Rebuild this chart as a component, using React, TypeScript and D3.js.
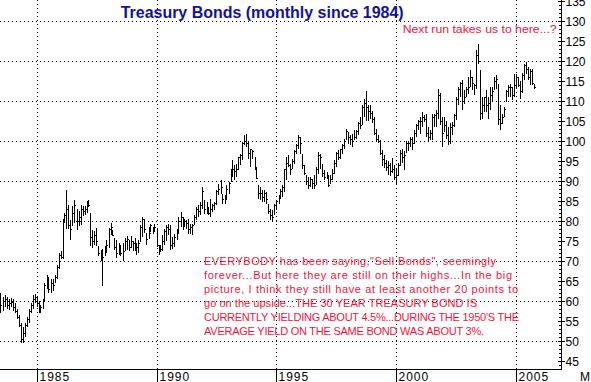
import React from 'react';
import * as d3 from 'd3';

// Monthly bars, first bar = July 1983
const START = new Date(1983, 6, 1);

const highs = [
  62.0, 61.0, 61.5, 61.0, 60.5, 60.8,
  60.5, 59.5, 58.0, 56.5, 54.5, 53.5, 54.5, 56.0, 58.0, 59.5, 61.5, 61.8,
  61.0, 60.0, 59.0, 60.5, 64.5, 66.5, 66.0, 65.5, 65.5, 66.5, 69.0, 72.0,
  72.5, 80.5, 82.0, 87.9, 84.0, 80.4, 83.75, 85.4, 83.0, 82.5, 84.2, 83.75,
  83.75, 85.0, 85.4, 82.0, 77.9, 77.5, 78.3, 73.75, 72.9, 73.0, 73.75, 75.4,
  78.3, 79.6, 77.9, 75.8, 75.4, 74.6, 73.75, 74.6, 75.8, 76.25, 75.4, 76.25,
  75.0, 75.8, 74.6, 75.4, 79.0, 81.1, 80.5, 77.0, 78.6, 79.4, 78.6, 79.4,
  78.0, 74.0, 74.0, 76.5, 78.2, 79.0, 79.4, 79.0, 76.1, 76.9, 78.2, 81.1,
  82.3, 81.1, 80.7, 80.25, 80.7, 79.4, 79.4, 81.5, 83.6, 84.0, 84.8, 88.6,
  85.25, 84.8, 83.6, 85.7, 84.4, 84.8, 87.75, 89.4, 90.25, 86.9, 86.5, 89.0,
  89.8, 93.2, 95.25, 94.0, 94.4, 96.1, 96.9, 99.8, 101.5, 101.9, 99.8, 98.2,
  97.75, 96.1, 93.6, 89.0, 88.6, 87.75, 87.75, 87.3, 84.4, 83.2, 82.75, 84.4,
  85.25, 86.5, 88.2, 89.0, 93.2, 96.1, 96.5, 94.4, 95.7, 97.75, 99.4, 101.5,
  101.1, 96.9, 94.0, 91.5, 91.1, 91.1, 90.7, 91.5, 93.6, 97.3, 96.9, 94.4,
  92.75, 92.3, 91.5, 91.5, 93.2, 95.25, 97.3, 97.75, 98.2, 99.4, 100.7, 103.2,
  102.3, 101.5, 101.9, 102.75, 102.75, 104.8, 106.1, 109.2, 110.5, 112.5, 109.2, 109.0,
  107.5, 106.0, 103.0, 101.5, 100.3, 97.9, 96.7, 95.4, 95.0, 94.6, 95.8, 94.2,
  93.0, 94.6, 97.9, 98.0, 97.5, 100.2, 100.0, 101.1, 101.1, 102.75, 104.4, 105.25,
  106.1, 107.3, 106.5, 106.9, 103.6, 102.75, 106.9, 106.9, 107.75, 113.0, 112.0, 106.0,
  106.0, 105.0, 103.6, 104.5, 104.8, 106.9, 111.1, 113.6, 114.8, 115.25, 112.75, 113.6,
  116.1, 117.75, 116.1, 114.4, 122.75, 124.4, 117.75, 111.1, 111.1, 112.75, 111.1, 113.6,
  113.6, 116.1, 116.5, 114.4, 109.0, 106.9, 108.6, 112.75, 114.0, 114.4, 113.6, 116.9,
  116.9, 116.1, 115.0, 117.0, 119.4, 119.8, 118.6, 118.2, 118.2, 114.4,
];

const lows = [
  57.0, 57.5, 58.5, 58.0, 57.8, 58.5,
  57.5, 57.0, 55.5, 53.5, 49.6, 49.5, 51.0, 53.5, 54.5, 57.0, 58.0, 59.5,
  58.5, 57.2, 57.0, 58.0, 60.0, 63.0, 62.0, 62.0, 62.5, 64.5, 65.5, 68.0,
  70.5, 70.5, 79.5, 78.0, 78.0, 75.4, 78.75, 79.6, 77.9, 78.75, 79.0, 81.25,
  81.7, 82.0, 83.5, 73.75, 73.3, 74.2, 73.75, 71.25, 70.0, 63.75, 71.25, 72.1,
  73.3, 76.7, 76.25, 72.9, 70.8, 71.7, 71.25, 70.0, 72.5, 72.9, 72.5, 73.3,
  72.5, 72.5, 71.7, 72.1, 74.8, 76.1, 77.0, 74.0, 75.7, 77.3, 76.9, 77.3,
  73.5, 71.5, 72.3, 72.5, 74.0, 75.0, 76.5, 72.75, 73.2, 73.6, 75.25, 76.9,
  78.6, 77.75, 78.6, 78.2, 76.9, 76.9, 76.5, 79.0, 80.25, 81.1, 81.5, 83.0,
  81.9, 81.9, 81.5, 81.1, 82.3, 82.75, 84.0, 86.5, 86.9, 84.4, 84.4, 85.7,
  86.9, 89.8, 91.1, 90.25, 91.1, 92.75, 94.0, 95.25, 99.0, 98.6, 95.7, 93.6,
  95.7, 92.75, 90.5, 85.7, 85.25, 84.8, 84.8, 84.4, 81.9, 80.25, 79.8, 81.5,
  82.75, 84.4, 85.7, 86.1, 87.3, 90.25, 93.6, 91.5, 93.2, 94.4, 96.9, 98.2,
  96.9, 93.2, 91.5, 89.0, 88.2, 88.6, 88.2, 88.2, 89.0, 91.9, 93.2, 91.1,
  90.25, 90.7, 88.6, 89.4, 90.25, 91.9, 93.6, 95.25, 95.7, 96.9, 98.2, 100.25,
  99.4, 99.0, 98.6, 100.25, 100.7, 101.5, 103.0, 104.0, 106.0, 105.0, 105.0, 105.5,
  104.5, 101.5, 100.0, 99.5, 96.5, 93.75, 93.3, 92.5, 91.7, 91.25, 92.0, 90.4,
  89.2, 91.25, 93.75, 94.5, 92.9, 97.0, 97.5, 98.6, 97.75, 99.4, 101.1, 102.75,
  101.9, 103.6, 104.8, 101.1, 99.8, 100.25, 100.25, 103.6, 103.6, 105.5, 104.0, 98.6,
  102.3, 100.5, 99.0, 99.4, 101.5, 103.6, 105.25, 109.0, 111.1, 107.75, 109.4, 111.1,
  111.9, 113.6, 112.75, 111.5, 113.2, 119.4, 105.25, 105.7, 107.3, 107.3, 105.7, 107.75,
  109.8, 112.75, 113.0, 104.0, 102.75, 104.4, 106.1, 109.8, 111.1, 111.1, 110.25, 111.1,
  113.2, 113.6, 110.5, 112.0, 115.25, 116.9, 115.25, 114.0, 114.0, 113.2,
];

const closes = [
  59.0, 60.0, 60.5, 59.0, 59.5, 59.8,
  58.5, 57.5, 56.0, 54.0, 50.5, 52.0, 54.0, 55.5, 57.5, 59.0, 60.5, 61.0,
  59.5, 57.8, 58.5, 60.0, 64.0, 65.0, 63.0, 64.5, 64.0, 66.0, 68.5, 71.5,
  71.0, 80.0, 81.5, 83.0, 79.0, 78.0, 82.0, 84.0, 80.0, 81.0, 83.0, 82.5,
  83.0, 84.0, 84.0, 76.0, 75.0, 76.5, 75.0, 72.0, 70.5, 71.0, 73.0, 74.0,
  78.0, 78.5, 76.5, 73.5, 72.0, 74.0, 72.0, 72.5, 75.0, 75.5, 73.5, 75.0,
  74.5, 73.0, 73.5, 74.5, 78.5, 80.5, 78.0, 75.5, 77.0, 79.0, 78.0, 78.5,
  74.0, 72.5, 73.0, 75.0, 77.5, 78.5, 78.0, 74.0, 74.5, 76.0, 78.0, 80.0,
  81.0, 79.0, 80.0, 79.5, 78.0, 78.5, 79.0, 81.0, 83.0, 82.5, 84.0, 87.5,
  83.0, 83.0, 82.0, 83.0, 84.0, 84.5, 87.5, 88.0, 88.5, 85.5, 85.5, 88.0,
  89.5, 93.0, 93.0, 92.5, 93.0, 96.0, 96.5, 99.5, 100.0, 99.5, 97.0, 98.0,
  97.5, 93.0, 90.7, 87.0, 87.0, 86.0, 87.0, 85.5, 82.5, 81.5, 81.0, 84.0,
  85.0, 86.2, 87.5, 88.5, 93.0, 94.5, 94.0, 93.0, 95.0, 97.5, 99.0, 101.0,
  99.5, 94.0, 92.0, 90.0, 89.0, 90.5, 89.5, 89.0, 93.0, 96.5, 96.0, 92.0,
  91.0, 91.0, 89.0, 90.5, 92.0, 94.5, 97.0, 96.0, 98.0, 99.0, 100.0, 102.5,
  101.0, 100.5, 100.0, 101.0, 102.5, 104.5, 104.0, 108.5, 109.5, 108.5, 107.5, 107.0,
  105.5, 102.0, 100.5, 100.0, 97.0, 95.5, 94.5, 93.5, 94.0, 92.5, 93.0, 91.0,
  91.5, 94.0, 97.0, 96.0, 96.5, 99.5, 99.5, 100.5, 99.5, 102.0, 104.0, 105.0,
  105.0, 106.0, 105.5, 102.0, 101.0, 102.0, 106.0, 106.5, 107.0, 111.5, 105.0, 102.0,
  104.0, 101.5, 100.0, 103.5, 104.0, 106.5, 110.5, 113.0, 114.5, 110.0, 111.0, 113.0,
  113.5, 116.0, 114.5, 114.0, 121.5, 120.0, 107.0, 109.0, 111.0, 109.0, 109.5, 111.5,
  112.5, 115.0, 115.5, 105.5, 104.5, 106.0, 108.0, 112.5, 113.5, 113.5, 111.5, 114.0,
  116.0, 114.0, 112.5, 116.5, 119.0, 118.0, 116.0, 117.5, 114.5, 113.5,
];

const yLabelValues = [45, 50, 55, 60, 65, 70, 75, 80, 85, 90, 95, 100, 105, 110, 115, 120, 125, 130, 135];
const gridValues = [50, 60, 70, 80, 90, 100, 110, 120, 130];
const yearTicks = [1985, 1990, 1995, 2000, 2005];

const titleText = 'Treasury Bonds (monthly since 1984)';
const calloutText = 'Next run takes us to here...?';
const noteLines = [
  'EVERYBODY has been saying,"Sell Bonds", seemingly',
  'forever...But here they are still on their highs...In the big',
  'picture, I think they still have at least another 20 points to',
  'go on the upside...THE 30 YEAR TREASURY BOND IS',
  "CURRENTLY YIELDING ABOUT 4.5%...DURING THE 1950'S THE",
  'AVERAGE YIELD ON THE SAME BOND WAS ABOUT 3%.',
];
const noteWidths = [292, 308, 314, 273, 315, 280];

const W = 591;
const H = 382;
const AXIS_X = 561.5;
const AXIS_Y = 369.5;
const FONT = 'Arial, "Liberation Sans", Helvetica, sans-serif';
const RED = '#f5143c';
const BLUE = '#12129a';

export default function App() {
  const x = d3.scaleTime()
    .domain([new Date(1985, 0, 1), new Date(2005, 0, 1)])
    .range([36.6, 516.4]);
  const y = d3.scaleLinear().domain([43, 135.325]).range([369.3, 0]);

  const bars = highs.map((h, i) => {
    const d = d3.timeMonth.offset(START, i);
    return { d, h, l: lows[i], c: closes[i] };
  });

  const px = (v: number) => Math.round(v) + 0.5;

  const minorTicks = d3.range(44, 136, 1);

  return (
    <svg
      width={W}
      height={H}
      viewBox={`0 0 ${W} ${H}`}
      style={{ position: 'absolute', left: 0, top: 0, background: '#fff', display: 'block' }}
    >
      <rect x={0} y={0} width={W} height={H} fill="#fff" />
      {/* grid */}
      <g stroke="#000" strokeWidth={1} strokeDasharray="1,3" shapeRendering="crispEdges">
        {gridValues.map((v) => (
          <line key={'h' + v} x1={0} x2={AXIS_X - 2} y1={px(y(v))} y2={px(y(v))} />
        ))}
        {yearTicks.map((yr) => (
          <line key={'v' + yr} x1={px(x(new Date(yr, 0, 1)))} x2={px(x(new Date(yr, 0, 1)))} y1={0} y2={AXIS_Y} />
        ))}
      </g>
      {/* bars */}
      <g stroke="#000" strokeWidth={1} shapeRendering="crispEdges">
        {bars.map((b, i) => {
          const bx = px(x(b.d));
          return (
            <g key={i}>
              <line x1={bx} x2={bx} y1={y(b.h)} y2={y(b.l)} />
              <line x1={bx} x2={bx + 1.5} y1={px(y(b.c))} y2={px(y(b.c))} />
            </g>
          );
        })}
      </g>
      {/* axes */}
      <g stroke="#000" strokeWidth={1} shapeRendering="crispEdges">
        <line x1={AXIS_X} x2={AXIS_X} y1={0} y2={AXIS_Y} />
        <line x1={0} x2={AXIS_X} y1={AXIS_Y} y2={AXIS_Y} />
        {minorTicks.map((v) => {
          const major = v % 5 === 0;
          const ty = px(y(v));
          return <line key={'t' + v} x1={major ? AXIS_X - 4 : AXIS_X - 3} x2={major ? AXIS_X + 3 : AXIS_X} y1={ty} y2={ty} />;
        })}
        {yearTicks.map((yr) => {
          const tx = px(x(new Date(yr, 0, 1)));
          return <line key={'yt' + yr} x1={tx} x2={tx} y1={AXIS_Y} y2={H} />;
        })}
      </g>
      <g fontFamily={FONT} fontSize={12} fill="#000">
        {yLabelValues.map((v) => (
          <text key={'yl' + v} x={AXIS_X + 4} y={y(v) + 4.3}>{v}</text>
        ))}
        {yearTicks.map((yr) => (
          <text key={'xl' + yr} x={px(x(new Date(yr, 0, 1))) + 2} y={381} letterSpacing={1}>{yr}</text>
        ))}
        <text x={580} y={381}>M</text>
      </g>
      {/* title */}
      <text x={120.7} y={17.5} fontFamily={FONT} fontWeight="bold" fontSize={16} fill={BLUE}
        textLength={283} lengthAdjust="spacingAndGlyphs">{titleText}</text>
      <text x={402.7} y={32.7} fontFamily={FONT} fontSize={11} fill={RED}
        textLength={154} lengthAdjust="spacingAndGlyphs">{calloutText}</text>
      <g fontFamily={FONT} fontSize={11} fill={RED}>
        {noteLines.map((t, i) => (
          <text key={'n' + i} x={204} y={265 + i * 14} textLength={noteWidths[i]} lengthAdjust="spacing">{t}</text>
        ))}
      </g>
    </svg>
  );
}
